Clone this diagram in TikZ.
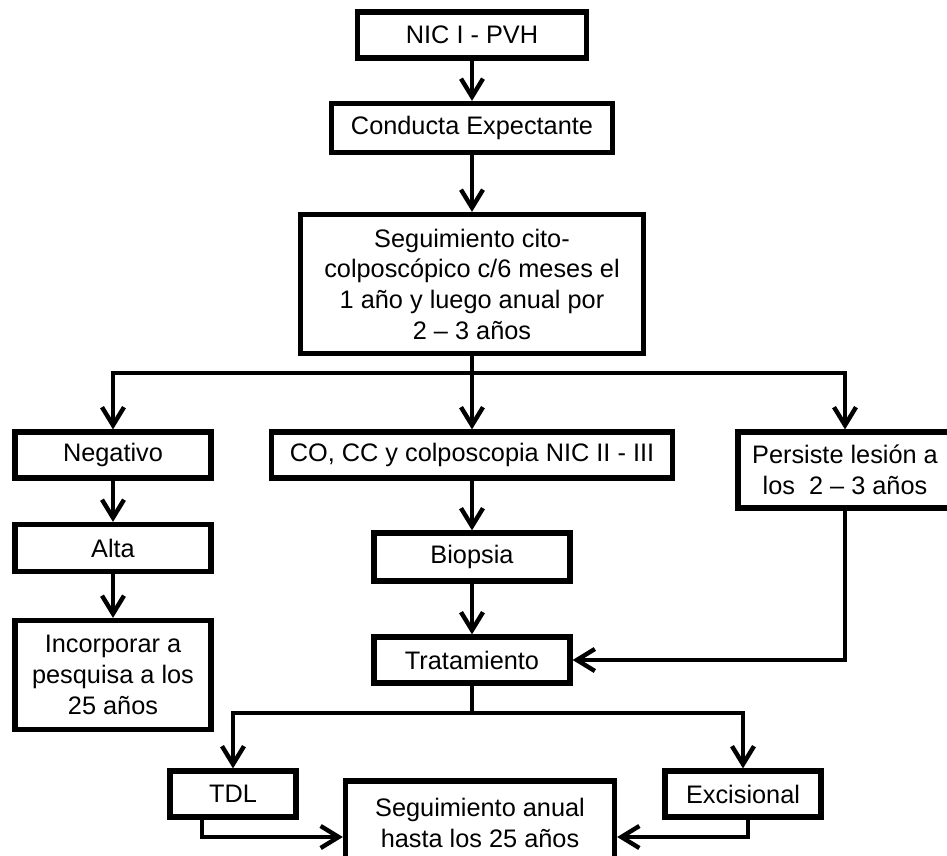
\documentclass[tikz,border=0pt]{standalone}
\usepackage{fontspec}
\setmainfont{Liberation Sans}
\usetikzlibrary{shapes,arrows.meta,calc}

\begin{document}
\begin{tikzpicture}[x=0.025cm,y=-0.025cm,
  caja/.style={draw,line width=0.13cm,align=center,inner sep=0pt,
    font=\fontsize{18}{21.8}\selectfont},
  flecha/.style={line width=0.11cm,-{Straight Barb[length=0.45cm,width=0.55cm]}}]
\useasboundingbox (0,0) rectangle (947,855);
\node[caja,minimum width=5.725cm,minimum height=1.15cm] (nic) at (472,35) {NIC I - PVH};
\node[caja,minimum width=7.025cm,minimum height=1.225cm] (cond) at (472,128) {Conducta Expectante};
\node[caja,minimum width=8.575cm,minimum height=3.475cm] (seg) at (472,284) {Seguimiento cito-\\colposcópico c/6 meses el\\1 año y luego anual por\\2 – 3 años};
\node[caja,minimum width=4.9cm,minimum height=1.15cm] (neg) at (113,455) {Negativo};
\node[caja,minimum width=10.025cm,minimum height=1.15cm] (co) at (472,455) {CO, CC y colposcopia NIC II - III};
\node[caja,minimum width=5.35cm,minimum height=1.9cm] (pers) at (845,470) {Persiste lesión a\\los~~2 – 3 años};
\node[caja,minimum width=4.9cm,minimum height=1.175cm] (alta) at (113,548) {Alta};
\node[caja,minimum width=4.9cm,minimum height=2.725cm] (inc) at (113,675) {Incorporar a\\pesquisa a los\\25 años};
\node[caja,minimum width=4.9cm,minimum height=1.2cm] (bio) at (472,557) {Biopsia};
\node[caja,minimum width=4.9cm,minimum height=1.15cm] (trat) at (472,660) {Tratamiento};
\node[caja,minimum width=3.15cm,minimum height=1.15cm] (tdl) at (233,794) {TDL};
\node[caja,minimum width=3.9cm,minimum height=1.15cm] (exc) at (743,794) {Excisional};
\node[caja,minimum width=6.725cm,minimum height=2.1cm] (segan) at (480,823) {Seguimiento anual\\hasta los 25 años};
\coordinate (split1) at (472,373);
\coordinate (split2) at (472,713);
\draw[flecha] (nic) -- (cond);
\draw[flecha] (cond) -- (seg);
\draw[line width=0.11cm] (seg) -- (split1);
\draw[flecha] (split1) -| (neg);
\draw[flecha] (split1) -- (co);
\draw[flecha] (split1) -| (pers);
\draw[flecha] (neg) -- (alta);
\draw[flecha] (alta) -- (inc);
\draw[flecha] (co) -- (bio);
\draw[flecha] (bio) -- (trat);
\draw[flecha] (pers) |- (trat);
\draw[line width=0.11cm] (trat) -- (split2);
\draw[flecha] (split2) -| (tdl);
\draw[flecha] (split2) -| (exc);
\draw[flecha] ($(tdl.south)+(-31,0)$) |- ($(segan.west)+(0,14)$);
\draw[flecha] ($(exc.south)+(5,0)$) |- ($(segan.east)+(0,14)$);
\end{tikzpicture}
\end{document}
